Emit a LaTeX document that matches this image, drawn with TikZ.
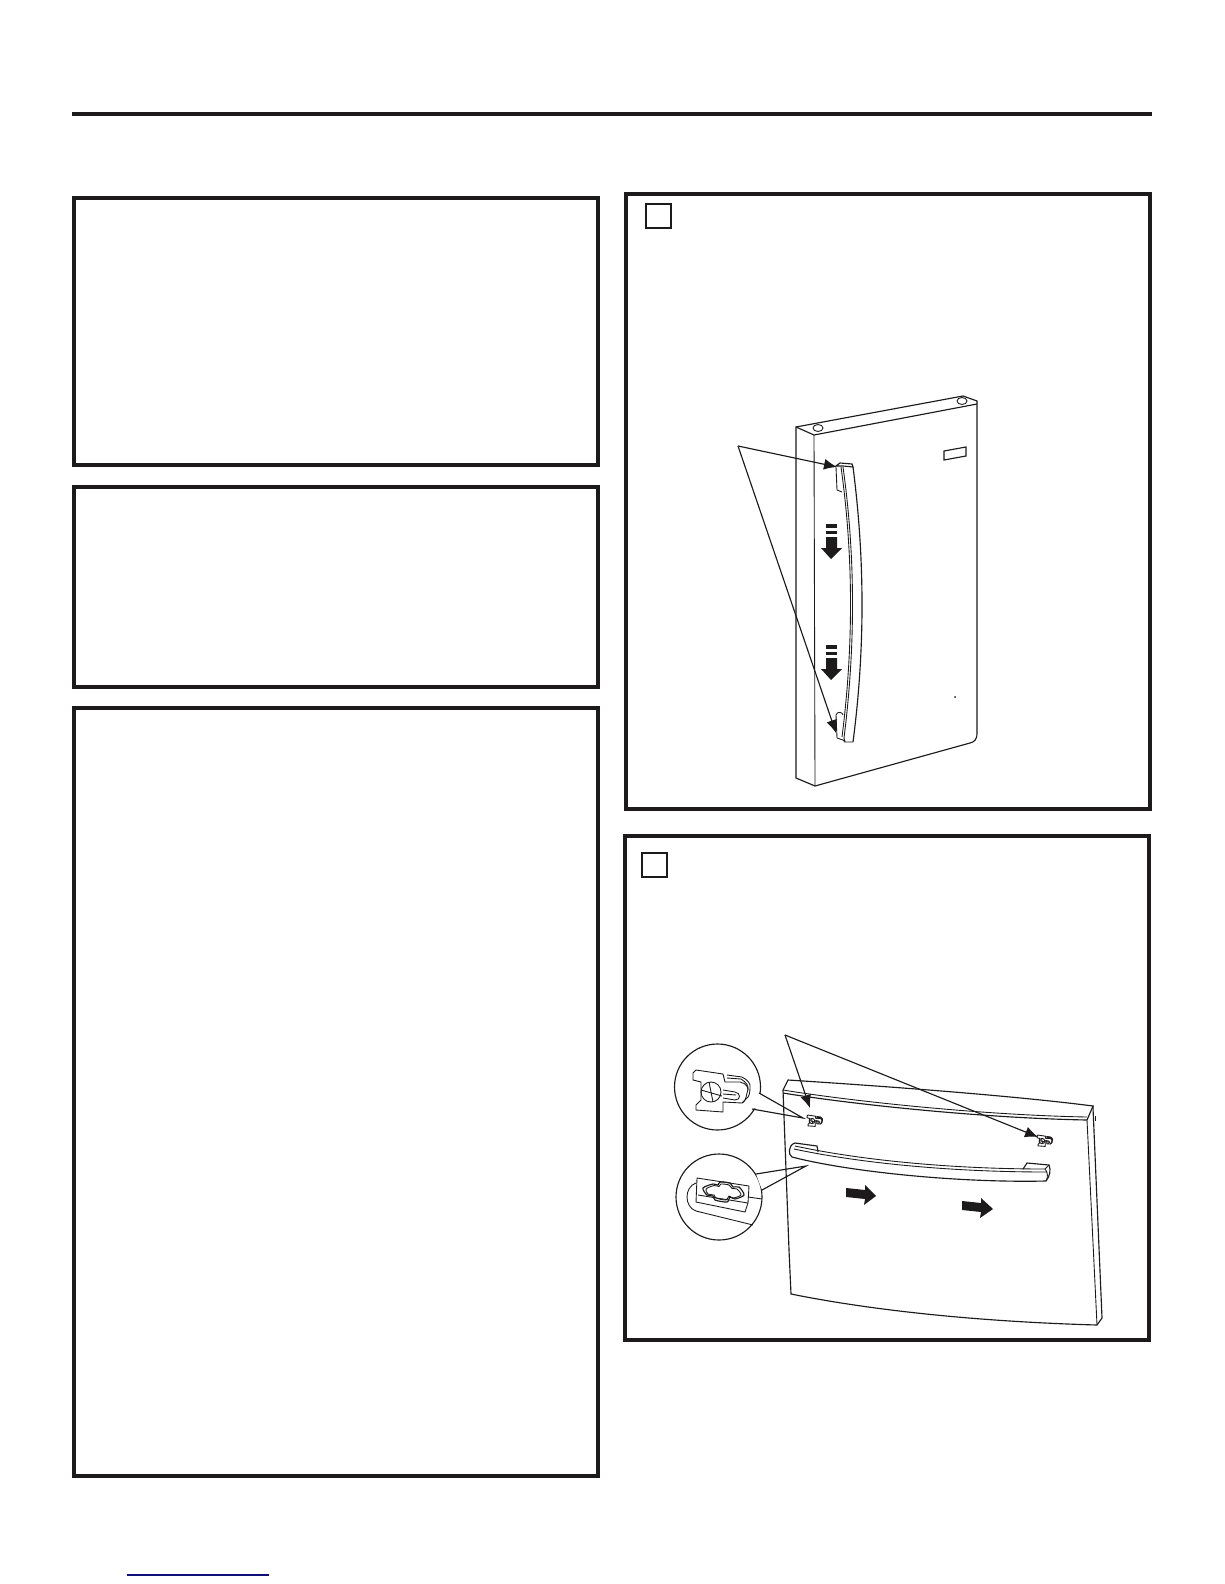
\documentclass[tikz,border=0pt]{standalone}
\usepackage{xcolor}
\usetikzlibrary{arrows.meta}
\definecolor{ink}{HTML}{1C1A1B}
\definecolor{linkblue}{HTML}{10107A}
\tikzset{
  frame/.style={draw=ink, line width=2.4pt},
  stepbox/.style={draw=ink, line width=1.1pt},
  outline/.style={draw=ink, line width=0.65pt},
  fine/.style={draw=ink, line width=0.5pt},
  callout/.style={draw=ink, line width=0.65pt, -{Latex[length=2.6mm,width=2.2mm]}},
  fatarrow/.style={fill=ink, draw=none},
  clipmark/.pic={
    \draw[pic actions] (-29,-19) -- (-26,-22) -- (1,-18) -- (3,-10) -- (18,-10) .. controls (24,-9) and (28,-4) .. (25,1) .. controls (24,6) and (23,10) .. (20,11) -- (1,10) -- (1,20) -- (-26,18) -- (-26,13) -- (-21,8) -- (-21,-10) -- (-29,-12) -- cycle;
    \draw[pic actions] (5,-17) -- (20,-15) .. controls (26,-12) and (29,-8) .. (28,-4) .. controls (28,0) and (27,4) .. (26,5) -- (20,11);
    \draw[pic actions] (5,-14) -- (19,-13) .. controls (24,-10) and (27,-6) .. (26,-2);
    \draw[pic actions] (-11,0) circle[radius=10];
    \draw[pic actions] (-21,-2) -- (0,4);
    \draw[pic actions] (-13,-10) -- (-9,10);
    \draw[pic actions] (1,-2) -- (13,0) .. controls (19,1) and (19,8) .. (13,8) -- (1,6);
    \draw[pic actions] (1,2) -- (14,3);
  }
}
\begin{document}
\begin{tikzpicture}[x=0.02cm,y=-0.02cm]
\useasboundingbox[fill=white] (0,0) rectangle (1224,1584);
\draw[ink,line width=2.6pt] (72,114) -- (1152,114);
\draw[frame] (74,198) rectangle (598,465);
\draw[frame] (74,487) rectangle (598,687);
\draw[frame] (74,708) rectangle (598,1476);
\draw[frame] (626,194) rectangle (1150,809);
\draw[frame] (625,836) rectangle (1149,1340);
\draw[stepbox] (646,204) rectangle (671,228);
\draw[stepbox] (642,853) rectangle (667,877);
\draw[linkblue,line width=0.7pt] (127,1575) -- (269,1575);

\draw[outline] (796,427) -- (963,396) -- (977,401) -- (977,733) .. controls (977,740) and (974,742) .. (970,743) -- (815,786) -- (796,778) -- cycle;
\draw[outline] (796,427) -- (814,435) -- (977,404);
\draw[fine] (814,435) -- (815,786);
\draw[fine] (818,428) ellipse (5 and 3.5);
\draw[fine] (962,401) ellipse (5 and 3.5);
\draw[outline] (944,451) -- (966,447) -- (966,456) -- (944,460) -- cycle;
\fill[ink] (955,697) circle (1);
\draw[outline] (853,467) .. controls (865,560) and (865,650) .. (853,742);
\draw[fine] (841,467) .. controls (854,560) and (853,650) .. (842,737);
\draw[fine] (843,467) .. controls (856,560) and (855,650) .. (844,738) -- (845,742);
\draw[outline] (836,466) -- (840,463) -- (852,464) -- (853,467) -- (843,466) -- cycle;
\draw[fine] (836,467) -- (837,490) -- (842,492);
\draw[fine] (843,715) .. controls (843,712) and (837,711) .. (836,715) -- (837,738) -- (843,740) -- (845,742) -- (853,742);
\foreach \dy in {0,121} {
  \fill[ink,yshift=-\dy*0.02cm] (826,524) rectangle (837,528);
  \fill[ink,yshift=-\dy*0.02cm] (826,531) rectangle (837,534);
  \fill[fatarrow,yshift=-\dy*0.02cm] (826,537) -- (837,537) -- (837,548) -- (842,548) -- (831,559) -- (821,548) -- (826,548) -- cycle;
}
\coordinate (handlefrom) at (738,446);
\coordinate (handletop) at (837,467);
\coordinate (handlelow) at (836,733);
\draw[callout] (handlefrom) -- (handletop);
\draw[callout] (handlefrom) -- (handlelow);

\draw[outline] (783,1090) -- (788,1080) .. controls (850,1084) and (1000,1094) .. (1093,1106) -- (1087,1120);
\draw[outline] (783,1093) .. controls (850,1104) and (980,1118) .. (1087,1120);
\draw[fine] (783,1090) .. controls (850,1101) and (980,1115) .. (1087,1117);
\draw[outline] (783,1090) -- (789,1250) -- (791,1294) .. controls (880,1312) and (990,1322) .. (1097,1325) -- (1102,1318) -- (1093,1108) -- (1093,1106);
\draw[fine] (1087,1120) -- (1097,1325);
\draw[fine] (1095,1116) -- (1095,1121);
\draw[outline] (795,1143) -- (817,1146) -- (818,1152);
\draw[outline] (795,1143) .. controls (788,1145) and (788,1155) .. (792,1157) .. controls (850,1172) and (960,1183) .. (1046,1181) .. controls (1050,1176) and (1051,1170) .. (1049,1165) -- (1027,1163) -- (1023,1169);
\draw[fine] (795,1146) .. controls (860,1160) and (950,1169) .. (1045,1169) -- (1049,1165);
\draw[fine] (794,1149) .. controls (860,1163) and (950,1172) .. (1047,1172);
\draw[fine] (1045,1169) .. controls (1048,1172) and (1048,1178) .. (1046,1181);
\draw[fatarrow] (846,1188) -- (865,1190) -- (865,1185) -- (876,1196) -- (864,1205) -- (865,1199) -- (846,1197) -- cycle;
\draw[fatarrow] (962,1201) -- (981,1203) -- (981,1198) -- (993,1209) -- (980,1218) -- (981,1212) -- (962,1210) -- cycle;
\pic[fine,scale=0.27] at (815,1121) {clipmark};
\pic[fine,scale=0.27] at (1045,1141) {clipmark};
\coordinate (clipfrom) at (785,1035);
\coordinate (clipleft) at (810,1108);
\coordinate (clipright) at (1038,1137);
\draw[callout] (clipfrom) -- (clipleft);
\draw[callout] (clipfrom) -- (clipright);

\draw[outline] (717.5,1087) circle[radius=43];
\fill[white] (759,1093) -- (770,1100) -- (764,1106) -- (752,1109) -- cycle;
\draw[outline] (759,1093) -- (803,1118) -- (752,1109);
\pic[fine] at (722,1092) {clipmark};
\draw[outline] (719,1197) circle[radius=43];
\fill[white] (756,1174) -- (770,1175) -- (775,1180) -- (762,1190) -- cycle;
\draw[outline] (756,1174) -- (806,1166) -- (762,1190);
\draw[fine] (697,1178) -- (749,1186) -- (748,1203) -- (745,1212) -- (696,1202) -- cycle;
\draw[fine] (698,1195) -- (748,1203);
\draw[fine] (696,1183) .. controls (684,1187) and (684,1207) .. (696,1211) -- (753,1225);
\draw[fine] (748,1197) -- (762,1199);
\draw[outline] plot[smooth cycle] coordinates {(703,1188) (713,1184) (718,1185) (720,1182) (730,1183) (733,1187) (739,1187) (744,1195) (735,1199) (730,1197) (727,1202) (715,1200) (713,1196) (707,1195)};
\draw[fine] plot[smooth cycle] coordinates {(706,1189) (714,1185.5) (719,1186.5) (721,1184) (729,1185) (732,1188.5) (737,1189) (741,1195) (733,1198) (729,1196) (726,1200) (716,1198) (714,1195) (708,1194)};
\end{tikzpicture}
\end{document}
